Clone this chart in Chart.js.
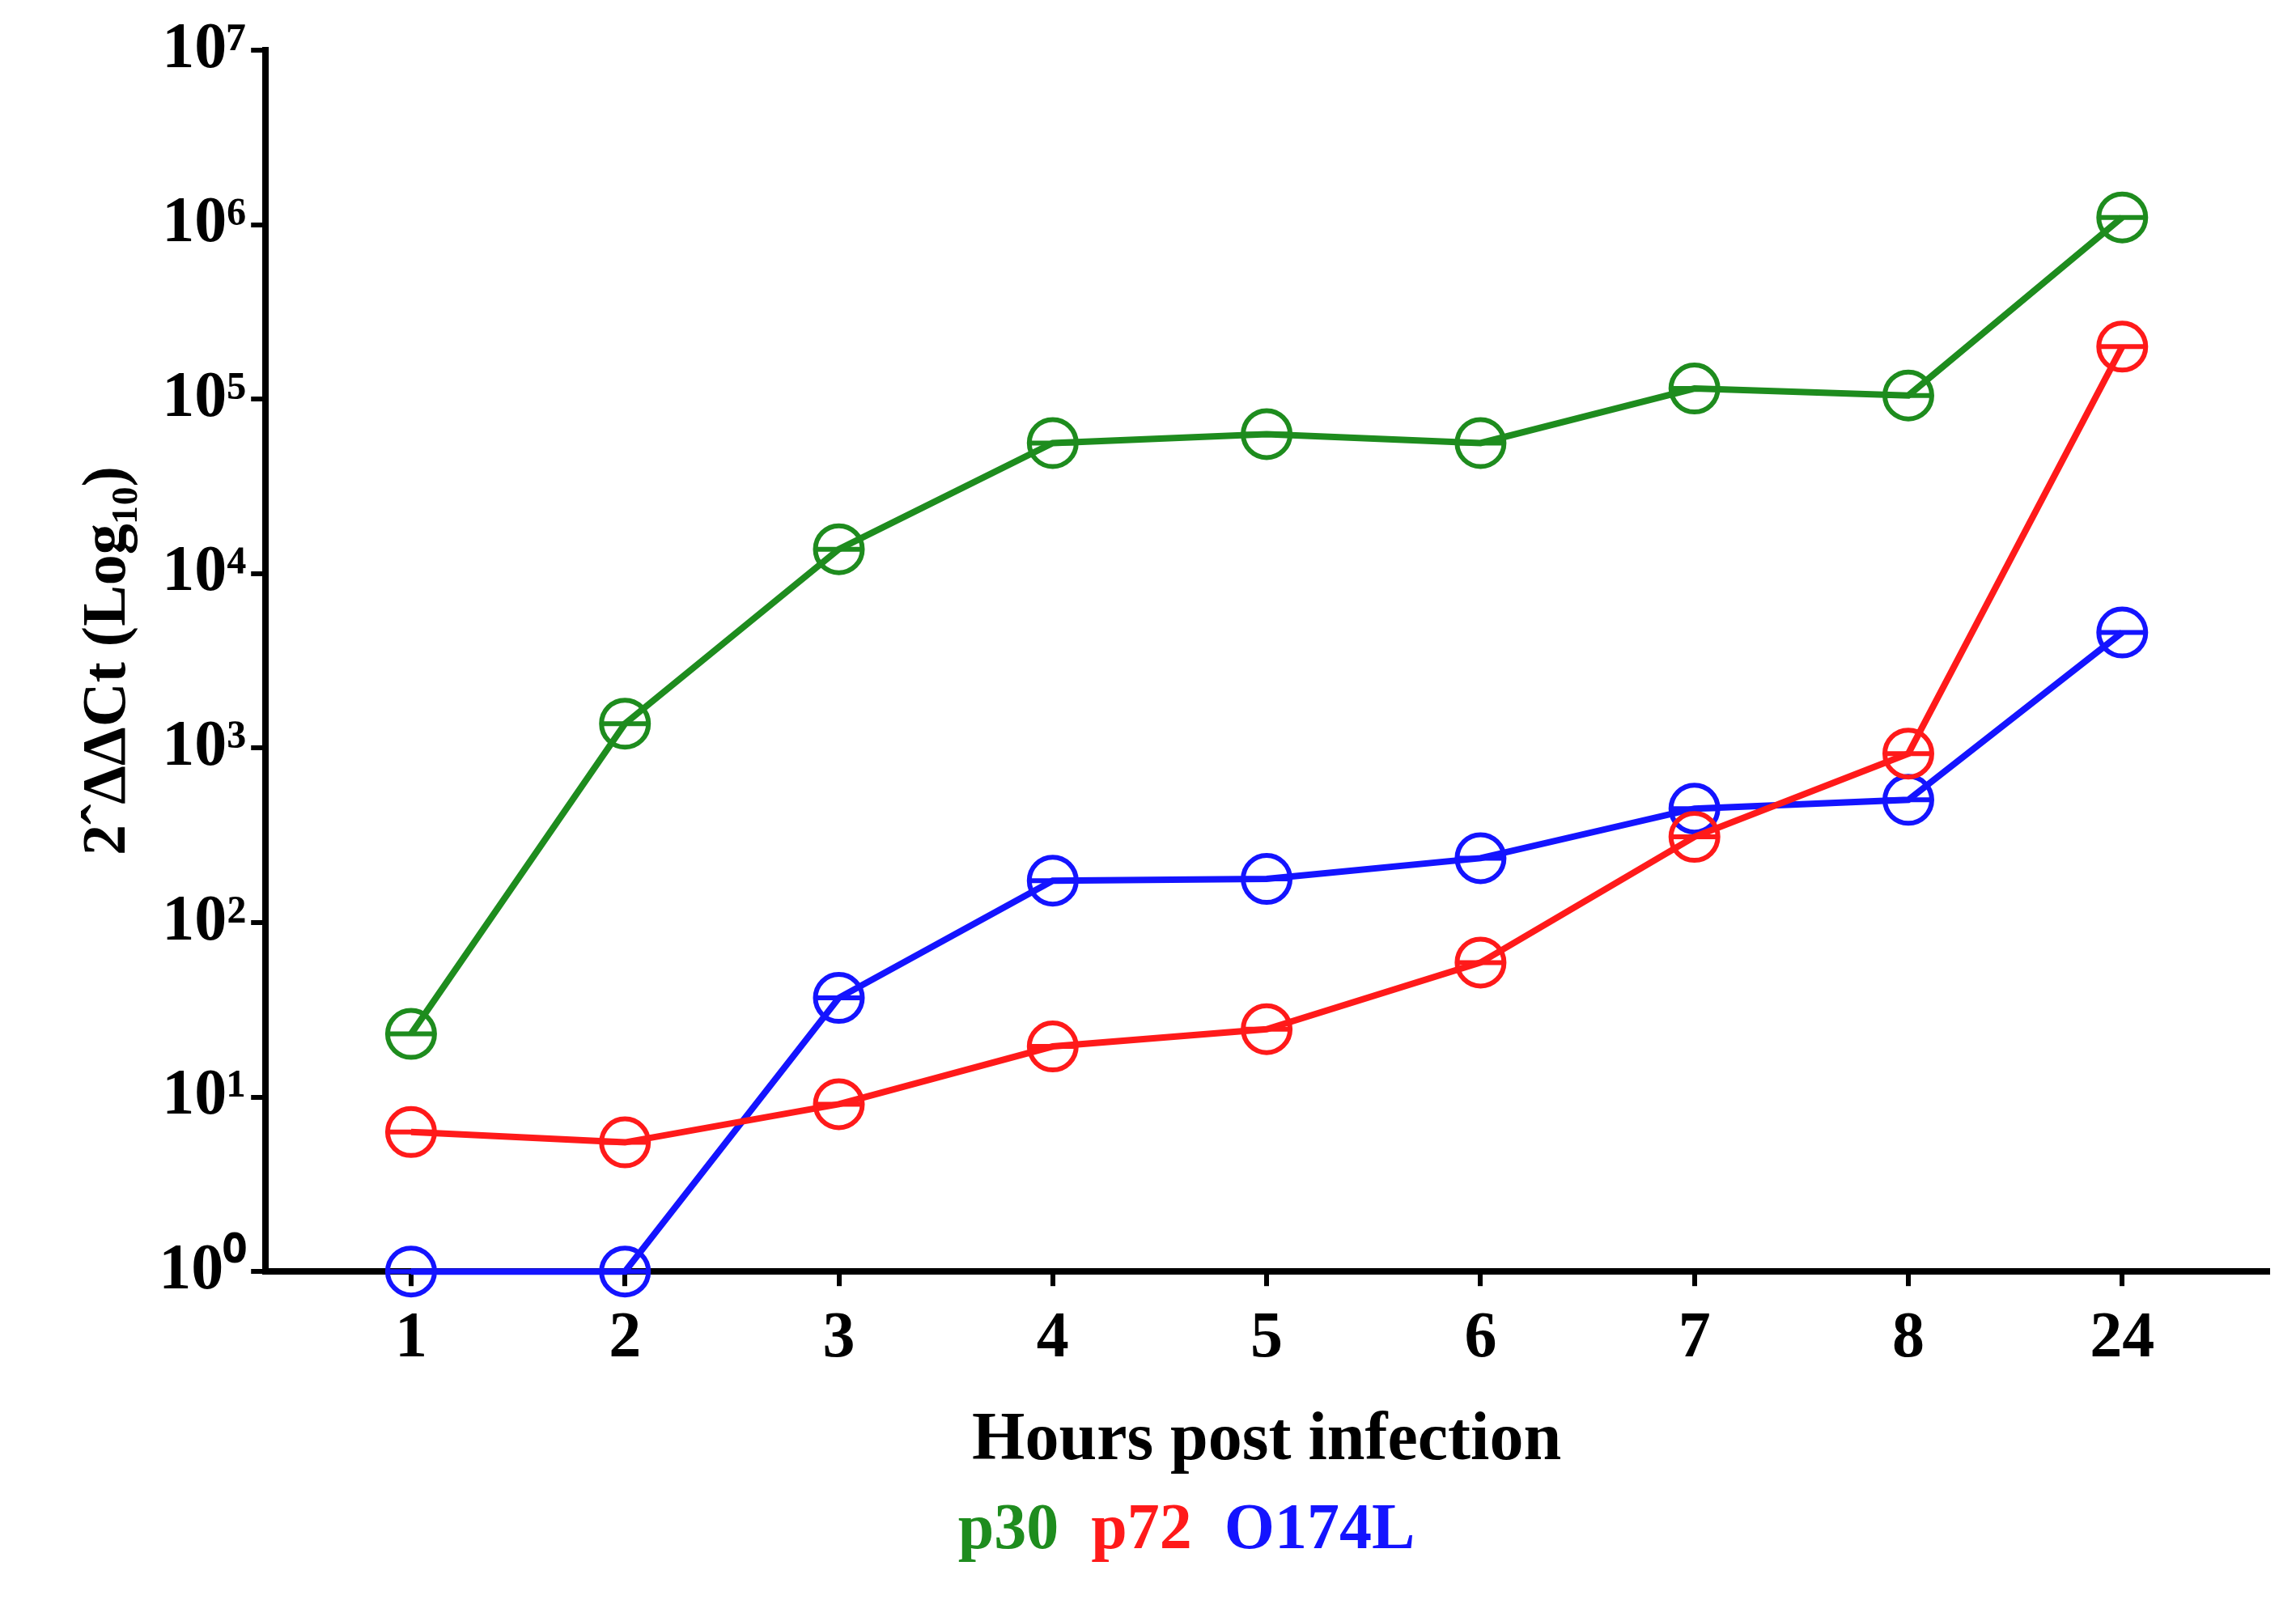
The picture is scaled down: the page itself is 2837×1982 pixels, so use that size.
<!DOCTYPE html>
<html>
<head>
<meta charset="utf-8">
<script src="https://cdn.jsdelivr.net/npm/chart.js@4"></script>
<style>
  body { margin: 0; background: #fff; }
</style>
</head>
<body>
<canvas id="grafico" width="2837" height="1982"></canvas>
<script>
/* Datos */
var categorias = ['1', '2', '3', '4', '5', '6', '7', '8', '24'];
var p30 = [23, 1380, 13800, 56000, 63000, 56000, 115000, 105000, 1100000];
var p72 = [6.3, 5.5, 9.1, 19.5, 24.5, 59, 310, 930, 200000];
var o174l = [1, 1, 37, 174, 178, 234, 450, 505, 4600];
var nombres = ['p30', 'p72', 'O174L'];
var colores = ['#1e8c1e', '#ff1a1a', '#1414ff'];
var superindices = ['⁰', '¹', '²', '³', '⁴', '⁵', '⁶', '⁷'];

var fuente = "'Liberation Serif', 'Times New Roman', serif";

function aPuntos(valores) {
    return valores.map(function (v, i) { return { x: i + 1, y: v }; });
}

/* Dibuja la línea horizontal dentro de cada círculo (barra de error) */
var barrasError = {
    id: 'barrasError',
    afterDatasetsDraw: function (chart) {
        var ctx = chart.ctx;
        chart.data.datasets.forEach(function (ds, i) {
            var meta = chart.getDatasetMeta(i);
            ctx.save();
            ctx.strokeStyle = ds.borderColor;
            ctx.lineWidth = 6;
            meta.data.forEach(function (p) {
                ctx.beginPath();
                ctx.moveTo(p.x - 28, p.y);
                ctx.lineTo(p.x + 28, p.y);
                ctx.stroke();
            });
            ctx.restore();
        });
    }
};

var series = [p30, p72, o174l];

new Chart(document.getElementById('grafico'), {
    type: 'line',
    data: {
        datasets: series.map(function (s, i) {
            return {
                label: nombres[i],
                data: aPuntos(s),
                borderColor: colores[i],
                backgroundColor: 'rgba(0,0,0,0)',
                borderWidth: 8,
                pointRadius: 29,
                pointBorderWidth: 6,
                pointBackgroundColor: 'rgba(0,0,0,0)',
                pointBorderColor: colores[i],
                tension: 0,
                clip: false
            };
        })
    },
    plugins: [barrasError],
    options: {
        responsive: false,
        animation: false,
        devicePixelRatio: 1,
        layout: { padding: { top: 62, right: 30, left: 85, bottom: 40 } },
        plugins: {
            tooltip: { enabled: false },
            legend: {
                position: 'bottom',
                labels: {
                    boxWidth: 0,
                    boxHeight: 0,
                    padding: 0,
                    font: { family: fuente, size: 80, weight: 'bold' },
                    generateLabels: function (chart) {
                        return chart.data.datasets.map(function (ds, i) {
                            return {
                                text: ds.label,
                                fontColor: colores[i],
                                fillStyle: 'rgba(0,0,0,0)',
                                strokeStyle: 'rgba(0,0,0,0)',
                                lineWidth: 0,
                                datasetIndex: i
                            };
                        });
                    }
                }
            }
        },
        scales: {
            x: {
                type: 'linear',
                min: 0.32,
                max: 9.68,
                afterBuildTicks: function (axis) {
                    axis.ticks = categorias.map(function (c, i) { return { value: i + 1 }; });
                },
                ticks: {
                    color: '#000',
                    padding: 18,
                    font: { family: fuente, size: 80, weight: 'bold' },
                    callback: function (v) { return categorias[v - 1]; }
                },
                grid: { drawOnChartArea: false, drawTicks: true, tickLength: 18, color: '#000', lineWidth: 6 },
                border: { color: '#000', width: 8 },
                title: {
                    display: true,
                    text: 'Hours post infection',
                    color: '#000',
                    font: { family: fuente, size: 84, weight: 'bold' },
                    padding: { top: 10, bottom: 20 }
                }
            },
            y: {
                type: 'logarithmic',
                min: 1,
                max: 1e7,
                afterBuildTicks: function (axis) {
                    var t = [];
                    for (var n = 0; n <= 7; n++) t.push({ value: Math.pow(10, n) });
                    axis.ticks = t;
                },
                ticks: {
                    color: '#000',
                    padding: 6,
                    font: { family: fuente, size: 80, weight: 'bold' },
                    callback: function (v) {
                        var n = Math.round(Math.log10(v));
                        return '10' + superindices[n];
                    }
                },
                grid: { drawOnChartArea: false, drawTicks: true, tickLength: 18, color: '#000', lineWidth: 6 },
                border: { color: '#000', width: 8 },
                title: {
                    display: true,
                    text: '2ˆΔΔCt (Log₁₀)',
                    color: '#000',
                    font: { family: fuente, size: 76, weight: 'bold' },
                    padding: { bottom: 10 }
                }
            }
        }
    }
});
</script>
</body>
</html>
